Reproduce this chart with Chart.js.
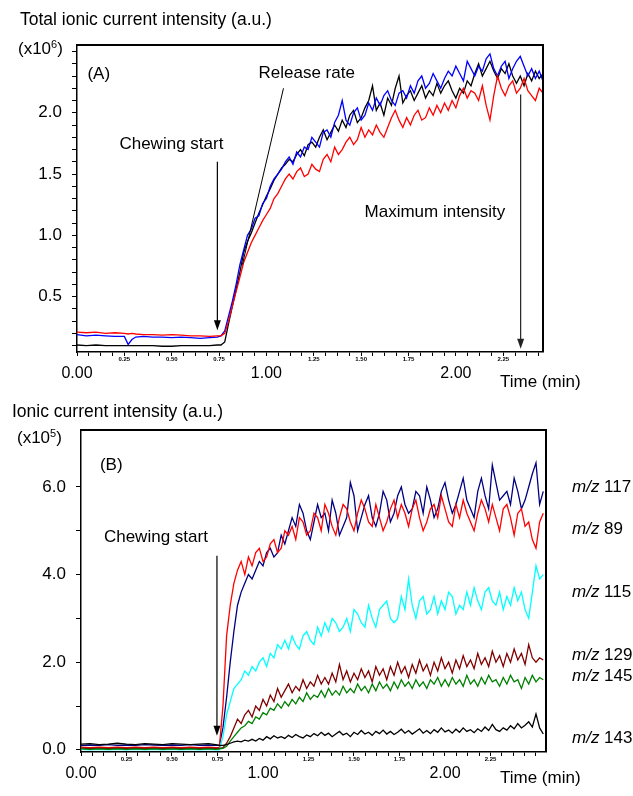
<!DOCTYPE html>
<html><head><meta charset="utf-8">
<script src="https://cdn.jsdelivr.net/npm/chart.js@4"></script>
<style>
body{margin:0;background:#fff;width:633px;height:796px;position:relative;overflow:hidden;font-family:"Liberation Sans",Arial,sans-serif;color:#000}
.t{position:absolute;font-size:17px;line-height:17px;white-space:nowrap}
.sup{font-size:11px;position:relative;top:-6px}
canvas{position:absolute;left:0}
</style></head><body>
<canvas id="ca" width="633" height="398" style="top:0"></canvas>
<canvas id="cb" width="633" height="398" style="top:398px"></canvas>
<div class="t" style="left:20px;top:11px;font-size:17.5px">Total ionic current intensity (a.u.)</div>
<div class="t" style="left:18px;top:40px">(x10<span class="sup">6</span>)</div>
<div class="t" style="left:500px;top:373px">Time (min)</div>
<div class="t" style="left:12px;top:403px;font-size:17.5px">Ionic current intensity (a.u.)</div>
<div class="t" style="left:17px;top:429px">(x10<span class="sup">5</span>)</div>
<div class="t" style="left:500px;top:769px">Time (min)</div>
<div class="t" style="left:572px;top:478px"><i>m/z</i> 117</div>
<div class="t" style="left:572px;top:520px"><i>m/z</i> 89</div>
<div class="t" style="left:572px;top:583px"><i>m/z</i> 115</div>
<div class="t" style="left:572px;top:646px"><i>m/z</i> 129</div>
<div class="t" style="left:572px;top:667px"><i>m/z</i> 145</div>
<div class="t" style="left:572px;top:729px"><i>m/z</i> 143</div>
<script>
// ---------- Panel A data (Total ionic current, x10^6) ----------
const timesA = [0,0.05,0.10,0.15,0.20,0.25,0.27,0.29,0.31,0.35,0.40,0.45,0.50,0.55,0.60,0.65,0.70,0.74,
0.76,0.78,0.80,0.82,0.84,0.86,0.88,0.90,0.92,0.94,
0.96,0.98,1.00,1.02,1.04,1.06,1.08,1.10,1.12,1.14,
1.16,1.18,1.20,1.22,1.24,1.26,1.28,1.30,1.32,1.34,
1.36,1.38,1.40,1.42,1.44,1.46,1.48,1.50,1.52,1.54,
1.56,1.58,1.60,1.62,1.64,1.66,1.68,1.70,1.72,1.74,
1.76,1.78,1.80,1.82,1.84,1.86,1.88,1.90,1.92,1.94,
1.96,1.98,2.00,2.02,2.04,2.06,2.08,2.10,2.12,2.14,
2.16,2.18,2.20,2.22,2.24,2.26,2.28,2.30,2.32,2.34,
2.36,2.38,2.40,2.42,2.44,2.46];
const redA = [0.21,0.205,0.21,0.20,0.205,0.20,0.195,0.20,0.195,0.19,0.19,0.185,0.19,0.185,0.18,0.18,0.175,0.18,
0.18,0.20,0.30,0.42,0.54,0.66,0.78,0.86,0.94,1.00,
1.06,1.12,1.17,1.22,1.30,1.34,1.40,1.46,1.50,1.46,
1.52,1.55,1.48,1.50,1.58,1.54,1.52,1.62,1.66,1.60,
1.72,1.66,1.70,1.76,1.80,1.74,1.78,1.88,1.80,1.86,
1.82,1.90,1.84,1.80,1.88,1.96,2.02,1.94,1.88,1.96,
1.90,1.98,2.02,1.94,1.96,2.04,1.98,2.06,2.00,2.08,
2.02,2.10,2.04,2.14,2.20,2.12,2.18,2.16,2.10,2.22,
2.06,1.94,2.14,2.30,2.20,2.14,2.22,2.26,2.16,2.20,
2.28,2.18,2.14,2.10,2.20,2.16];
const blueA = [0.19,0.18,0.185,0.18,0.175,0.175,0.11,0.15,0.17,0.175,0.17,0.17,0.165,0.17,0.165,0.16,0.165,0.17,
0.18,0.22,0.34,0.46,0.60,0.76,0.88,1.00,1.05,1.14,
1.16,1.26,1.30,1.40,1.46,1.50,1.54,1.60,1.64,1.58,
1.68,1.64,1.72,1.70,1.80,1.76,1.72,1.84,1.86,1.80,
1.92,1.98,2.10,1.94,1.90,2.00,2.04,1.94,1.98,2.08,
2.02,2.12,2.06,2.14,2.18,2.10,2.06,2.16,2.18,2.12,
2.22,2.16,2.26,2.30,2.20,2.24,2.32,2.26,2.20,2.28,
2.34,2.30,2.38,2.32,2.26,2.42,2.36,2.30,2.38,2.34,
2.44,2.48,2.36,2.30,2.38,2.42,2.28,2.36,2.42,2.46,
2.38,2.30,2.36,2.28,2.34,2.26];
const blackA = [0.105,0.10,0.105,0.10,0.10,0.10,0.10,0.10,0.10,0.10,0.10,0.095,0.095,0.10,0.10,0.10,0.10,0.105,
0.105,0.13,0.28,0.42,0.56,0.70,0.86,0.95,1.02,1.10,
1.18,1.25,1.32,1.38,1.45,1.50,1.55,1.58,1.62,1.60,
1.66,1.70,1.65,1.74,1.76,1.72,1.80,1.86,1.78,1.84,
1.90,1.85,1.94,1.88,1.98,2.02,1.92,1.96,2.04,2.10,
2.22,2.02,2.08,1.98,2.12,2.06,2.20,2.30,2.08,2.14,
2.18,2.10,2.16,2.22,2.12,2.18,2.14,2.24,2.16,2.22,
2.26,2.18,2.12,2.20,2.16,2.26,2.22,2.32,2.40,2.30,
2.36,2.42,2.34,2.28,2.36,2.32,2.40,2.30,2.24,2.30,
2.22,2.32,2.26,2.34,2.28,2.32];

// ---------- Panel B data (Ionic current, x10^5) ----------
const timesB = [0,0.05,0.10,0.15,0.20,0.25,0.30,0.35,0.40,0.45,0.50,0.55,0.60,0.65,0.70,0.74,
0.76,0.78,0.80,0.82,0.84,0.86,0.88,0.90,0.92,0.94,
0.96,0.98,1.00,1.02,1.04,1.06,1.08,1.10,1.12,1.14,
1.16,1.18,1.20,1.22,1.24,1.26,1.28,1.30,1.32,1.34,
1.36,1.38,1.40,1.42,1.44,1.46,1.48,1.50,1.52,1.54,
1.56,1.58,1.60,1.62,1.64,1.66,1.68,1.70,1.72,1.74,
1.76,1.78,1.80,1.82,1.84,1.86,1.88,1.90,1.92,1.94,
1.96,1.98,2.00,2.02,2.04,2.06,2.08,2.10,2.12,2.14,
2.16,2.18,2.20,2.22,2.24,2.26,2.28,2.30,2.32,2.34,
2.36,2.38,2.40,2.42,2.44,2.46,2.48,2.50,2.52,2.54];
const mz117 = [0.10,0.11,0.10,0.12,0.10,0.11,0.10,0.12,0.11,0.10,0.11,0.10,0.12,0.10,0.11,0.10,
0.10,0.5,1.2,2.0,2.7,3.3,3.6,3.8,4.0,3.9,
4.1,4.3,4.2,4.5,4.6,4.4,4.5,4.9,4.7,5.0,
5.3,5.1,5.6,5.4,5.0,4.8,5.2,5.6,5.3,5.4,
5.0,5.7,5.4,4.9,5.1,5.3,6.1,5.8,5.0,5.3,
5.6,5.8,5.3,5.1,5.4,5.9,5.7,5.2,5.4,5.8,
6.0,5.6,5.4,5.5,5.9,5.8,5.4,6.0,5.7,5.3,
5.5,5.9,6.1,5.7,5.4,5.6,5.9,6.2,5.7,5.5,
5.3,5.9,6.2,5.8,5.5,6.5,6.1,5.7,5.8,5.9,
5.6,6.2,5.9,5.5,5.7,6.0,6.3,6.55,5.6,5.9];
const mz89 = [0.06,0.05,0.06,0.05,0.06,0.05,0.06,0.05,0.06,0.05,0.06,0.05,0.06,0.05,0.06,0.05,
0.05,1.0,2.6,3.3,3.8,4.1,4.3,4.0,4.4,4.2,
4.5,4.6,4.3,4.4,4.7,4.8,4.5,4.6,5.0,4.9,
5.1,4.8,5.3,5.2,4.9,5.0,5.4,5.3,5.0,5.6,
5.4,5.1,4.9,5.3,5.6,5.5,5.2,5.0,5.4,5.7,
5.5,5.2,5.1,5.6,5.3,5.0,5.2,5.5,5.7,5.3,
5.6,5.4,5.1,5.5,5.7,5.3,5.0,5.2,5.5,5.6,
5.3,5.8,5.5,5.2,5.1,5.6,5.3,5.7,5.4,5.2,
5.0,5.4,5.7,5.5,5.2,5.6,5.3,5.0,5.5,5.6,
5.3,4.9,5.4,5.5,5.1,5.2,4.8,4.6,5.2,5.4];
const mz115 = [0.01,0.0,0.01,0.0,0.01,0.0,0.01,0.0,0.01,0.0,0.01,0.0,0.01,0.0,0.01,0.0,
0.0,0.3,0.8,1.1,1.4,1.5,1.6,1.8,1.7,1.9,
1.8,2.0,2.1,1.9,2.2,2.1,2.4,2.3,2.5,2.3,
2.6,2.4,2.3,2.6,2.7,2.5,2.4,2.8,2.6,2.9,
2.7,3.0,2.9,2.7,2.8,3.0,2.7,3.2,3.1,2.9,
2.8,3.3,3.0,2.8,3.2,3.3,3.4,3.0,2.9,3.0,
3.5,3.2,3.9,3.3,3.0,3.4,3.5,3.1,3.2,3.5,
3.1,3.4,3.2,3.6,3.5,3.1,3.3,3.2,3.6,3.3,
3.7,3.4,3.2,3.6,3.7,3.4,3.3,3.6,3.2,3.5,
3.3,3.7,3.4,3.6,3.2,3.0,3.6,4.2,3.9,4.0];
const mz129 = [0.04,0.03,0.04,0.03,0.04,0.03,0.04,0.03,0.04,0.03,0.04,0.03,0.04,0.03,0.04,0.03,
0.03,0.05,0.15,0.3,0.5,0.7,0.6,0.8,0.9,0.75,
1.0,0.9,1.15,1.0,1.25,1.1,1.4,1.2,1.35,1.5,
1.3,1.45,1.35,1.6,1.4,1.55,1.45,1.7,1.5,1.65,
1.5,1.75,1.55,1.95,1.6,1.8,1.55,1.75,1.6,1.85,
1.65,1.8,1.55,1.9,1.7,1.85,1.6,1.9,1.7,2.0,
1.75,1.9,1.65,1.95,1.75,2.05,1.8,1.95,1.7,2.0,
1.8,2.1,1.85,2.0,1.75,2.05,1.85,2.15,1.9,2.05,
1.85,2.2,1.95,2.1,1.9,2.25,2.0,2.15,1.9,2.2,
2.0,2.3,2.05,2.2,1.95,2.4,2.1,2.0,2.1,2.05];
const mz145 = [0.02,0.01,0.02,0.01,0.02,0.01,0.02,0.01,0.02,0.01,0.02,0.01,0.02,0.01,0.02,0.01,
0.02,0.03,0.08,0.2,0.3,0.4,0.5,0.55,0.65,0.6,
0.75,0.7,0.85,0.8,0.95,0.9,1.05,0.95,1.1,1.0,
1.15,1.05,1.2,1.1,1.3,1.15,1.25,1.2,1.35,1.2,
1.4,1.25,1.35,1.25,1.45,1.3,1.4,1.3,1.5,1.35,
1.45,1.3,1.5,1.35,1.55,1.4,1.5,1.35,1.55,1.4,
1.6,1.45,1.55,1.4,1.6,1.45,1.55,1.4,1.6,1.5,
1.65,1.45,1.6,1.45,1.65,1.5,1.6,1.45,1.7,1.5,
1.6,1.45,1.65,1.5,1.7,1.55,1.6,1.45,1.65,1.5,
1.7,1.55,1.6,1.4,1.65,1.5,1.7,1.55,1.65,1.6];
const mz143 = [0.13,0.14,0.12,0.13,0.15,0.13,0.12,0.14,0.13,0.12,0.14,0.13,0.12,0.13,0.14,0.12,
0.10,0.10,0.12,0.15,0.18,0.2,0.18,0.22,0.2,0.24,
0.2,0.26,0.22,0.3,0.25,0.32,0.27,0.3,0.26,0.33,
0.28,0.35,0.3,0.27,0.34,0.3,0.37,0.32,0.4,0.33,
0.38,0.3,0.36,0.42,0.34,0.38,0.3,0.4,0.35,0.44,
0.36,0.4,0.33,0.42,0.37,0.45,0.36,0.42,0.35,0.4,
0.47,0.38,0.44,0.36,0.42,0.48,0.38,0.44,0.37,0.46,
0.4,0.5,0.41,0.45,0.38,0.47,0.4,0.5,0.42,0.46,
0.39,0.48,0.42,0.52,0.44,0.58,0.46,0.42,0.5,0.45,
0.55,0.48,0.6,0.5,0.56,0.64,0.52,0.82,0.5,0.36];

// ---------- tick label lists ----------
const yTickLabelsA = [0.5, 1.0, 1.5, 2.0];
const yTickLabelsB = [0, 2, 4, 6];
const xMinorLabels = [0.25, 0.5, 0.75, 1.25, 1.5, 1.75, 2.25];
const xMajorLabels = [0, 1, 2];

const FAM = '"Liberation Sans", Arial, sans-serif';
Chart.defaults.font.family = FAM;
Chart.defaults.color = '#000';

const pts = (t, v) => t.map((x, i) => ({x: x, y: v[i]}));
const near = (v, list) => list.some(l => Math.abs(l - v) < 1e-6);

function deco(spec) {
  return {
    id: 'deco',
    afterDatasetsDraw(chart) {
      const {ctx, chartArea: a} = chart;
      const sx = chart.scales.x, sy = chart.scales.y;
      const px = v => sx.getPixelForValue(v), py = v => sy.getPixelForValue(v);
      ctx.save();
      ctx.strokeStyle = '#000'; ctx.lineWidth = 2;
      ctx.beginPath(); ctx.moveTo(a.left, a.top); ctx.lineTo(a.right, a.top); ctx.lineTo(a.right, a.bottom); ctx.stroke();
      (spec.lines || []).forEach(l => {
        ctx.strokeStyle = '#000'; ctx.lineWidth = 1;
        ctx.beginPath(); ctx.moveTo(px(l.x1), py(l.y1)); ctx.lineTo(px(l.x2), py(l.y2)); ctx.stroke();
      });
      (spec.arrows || []).forEach(r => {
        const x = px(r.x), y1 = py(r.y1), y2 = py(r.y2);
        ctx.strokeStyle = r.color; ctx.fillStyle = r.color; ctx.lineWidth = r.width;
        ctx.beginPath(); ctx.moveTo(x, y1); ctx.lineTo(x, y2 - 9); ctx.stroke();
        ctx.beginPath(); ctx.moveTo(x - 3.5, y2 - 10); ctx.lineTo(x + 3.5, y2 - 10); ctx.lineTo(x, y2); ctx.closePath(); ctx.fill();
      });
      ctx.fillStyle = '#000'; ctx.font = '17px ' + FAM; ctx.textBaseline = 'middle'; ctx.textAlign = 'left';
      (spec.texts || []).forEach(t => ctx.fillText(t.text, px(t.x), py(t.y)));
      ctx.restore();
    }
  };
}

function line(data, color) {
  return {data: data, borderColor: color, borderWidth: 1.3, pointRadius: 0, fill: false, tension: 0};
}

function scales(xmax, ymin, ymax, ystep, ywidth, x2h, yLabels) {
  return {
    x: {type: 'linear', position: 'bottom', weight: 0, min: 0, max: xmax,
      afterFit: s => { s.height = 12; },
      grid: {drawOnChartArea: false, color: '#000', tickColor: '#000', tickLength: 4, lineWidth: 1},
      border: {color: '#000', width: 1.5},
      ticks: {stepSize: 0.0625, autoSkip: false, maxRotation: 0, minRotation: 0, includeBounds: false, padding: 0,
        font: {size: 6, weight: 'bold'}, callback: v => near(v, xMinorLabels) ? v.toFixed(2) : ''}},
    x2: {type: 'linear', position: 'bottom', weight: 1, min: 0, max: xmax,
      afterFit: s => { s.height = x2h; },
      grid: {display: false, drawTicks: false}, border: {display: false},
      ticks: {stepSize: 1, autoSkip: false, maxRotation: 0, minRotation: 0, includeBounds: false, padding: 0,
        font: {size: 16}, callback: v => near(v, xMajorLabels) ? v.toFixed(2) : ''}},
    y: {type: 'linear', min: ymin, max: ymax,
      afterFit: s => { s.width = ywidth; },
      grid: {drawOnChartArea: false, color: '#000', tickLength: 5,
        tickColor: c => (c.tick && c.tick.value > 6.5 && ystep === 1) ? 'rgba(0,0,0,0)' : '#000'},
      border: {color: '#000', width: 1.5},
      ticks: {stepSize: ystep, autoSkip: false, includeBounds: false, padding: 10, font: {size: 17},
        callback: v => near(v, yLabels) ? v.toFixed(1) : ''}}
  };
}

new Chart(document.getElementById('ca'), {
  type: 'line',
  data: {datasets: [line(pts(timesA, redA), '#ff0000'), line(pts(timesA, blueA), '#0000ff'), line(pts(timesA, blackA), '#000000')]},
  options: {
    responsive: false, animation: false, devicePixelRatio: 1,
    layout: {padding: {top: 45, right: 90, left: 0, bottom: 0}},
    plugins: {legend: {display: false}, tooltip: {enabled: false}},
    scales: scales(2.46, 0.048, 2.553, 0.1, 77, 34, yTickLabelsA)
  },
  plugins: [deco({
    texts: [{text: '(A)', x: 0.055, y: 2.31}, {text: 'Chewing start', x: 0.224, y: 1.746},
            {text: 'Release rate', x: 0.958, y: 2.325}, {text: 'Maximum intensity', x: 1.518, y: 1.184}],
    lines: [{x1: 1.09, y1: 2.20, x2: 0.873, y2: 0.76}],
    arrows: [{x: 0.741, y1: 1.60, y2: 0.225, color: '#000', width: 1.2},
             {x: 2.342, y1: 2.15, y2: 0.075, color: '#222', width: 1.2}]
  })]
});

new Chart(document.getElementById('cb'), {
  type: 'line',
  data: {datasets: [line(pts(timesB, mz143), '#000000'), line(pts(timesB, mz145), '#008000'),
    line(pts(timesB, mz129), '#800000'), line(pts(timesB, mz115), '#00ffff'),
    line(pts(timesB, mz89), '#ff0000'), line(pts(timesB, mz117), '#000080')]},
  options: {
    responsive: false, animation: false, devicePixelRatio: 1,
    layout: {padding: {top: 32, right: 87, left: 0, bottom: 0}},
    plugins: {legend: {display: false}, tooltip: {enabled: false}},
    scales: scales(2.555, -0.05, 7.3, 1, 81, 32, yTickLabelsB)
  },
  plugins: [deco({
    texts: [{text: '(B)', x: 0.104, y: 6.5}, {text: 'Chewing start', x: 0.126, y: 4.86}],
    arrows: [{x: 0.747, y1: 4.43, y2: 0.32, color: '#000', width: 1.2}]
  })]
});
</script>
</body></html>
